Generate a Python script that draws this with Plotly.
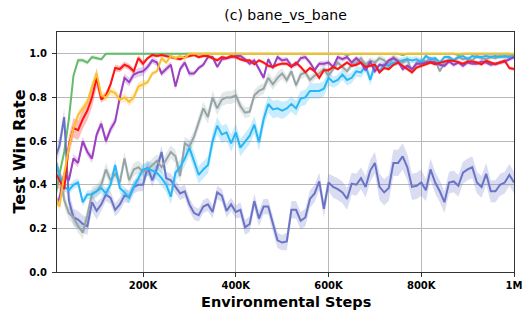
import plotly.graph_objects as go

steps = [10000 * i for i in range(1, 101)]

x_tickvals = [200000, 400000, 600000, 800000, 1000000]
x_ticktext = ["200K", "400K", "600K", "800K", "1M"]
y_tickvals = [0.0, 0.2, 0.4, 0.6, 0.8, 1.0]
y_ticktext = ["0.0", "0.2", "0.4", "0.6", "0.8", "1.0"]

green = [0.33, 0.45, 0.55, 0.70, 0.90, 0.97, 0.97, 0.96, 0.985, 0.98,
         0.975, 1.0, 1.0, 1.0, 1.0, 1.0, 1.0, 1.0, 1.0, 1.0,
         1.0, 1.0, 1.0, 1.0, 1.0, 1.0, 1.0, 1.0, 1.0, 1.0,
         1.0, 1.0, 1.0, 1.0, 1.0, 1.0, 1.0, 1.0, 1.0, 1.0,
         1.0, 1.0, 1.0, 1.0, 1.0, 1.0, 1.0, 1.0, 1.0, 1.0,
         1.0, 1.0, 1.0, 1.0, 1.0, 1.0, 1.0, 1.0, 1.0, 1.0,
         1.0, 1.0, 1.0, 0.995, 1.0, 1.0, 1.0, 1.0, 1.0, 1.0,
         1.0, 1.0, 1.0, 1.0, 1.0, 0.995, 1.0, 1.0, 1.0, 1.0,
         1.0, 1.0, 1.0, 1.0, 1.0, 1.0, 1.0, 0.995, 1.0, 1.0,
         1.0, 1.0, 1.0, 1.0, 1.0, 1.0, 1.0, 1.0, 1.0, 0.995]

yellow = [0.35, 0.30, 0.45, 0.57, 0.66, 0.72, 0.75, 0.78, 0.85, 0.91,
          0.81, 0.80, 0.83, 0.82, 0.79, 0.80, 0.78, 0.80, 0.85, 0.86,
          0.87, 0.91, 0.92, 0.98, 0.96, 0.99, 0.98, 0.99, 0.98, 1.0,
          1.0, 1.0, 1.0, 1.0, 1.0, 1.0, 1.0, 1.0, 1.0, 1.0,
          1.0, 1.0, 1.0, 1.0, 1.0, 1.0, 1.0, 1.0, 1.0, 1.0,
          1.0, 1.0, 1.0, 1.0, 1.0, 1.0, 1.0, 1.0, 1.0, 1.0,
          1.0, 1.0, 1.0, 1.0, 1.0, 1.0, 1.0, 1.0, 1.0, 1.0,
          1.0, 1.0, 1.0, 1.0, 1.0, 1.0, 1.0, 1.0, 1.0, 1.0,
          1.0, 1.0, 1.0, 1.0, 1.0, 1.0, 1.0, 1.0, 1.0, 1.0,
          1.0, 1.0, 1.0, 1.0, 1.0, 1.0, 1.0, 1.0, 1.0, 1.0]

red = [0.46, 0.42, 0.38, 0.58, 0.66, 0.65, 0.70, 0.74, 0.80, 0.89,
       0.79, 0.81, 0.86, 0.935, 0.93, 0.95, 0.94, 0.92, 0.98, 0.955,
       0.98, 0.995, 0.99, 0.995, 0.99, 0.985, 0.98, 0.975, 0.985, 0.99,
       0.995, 0.985, 0.99, 0.99, 0.98, 0.97, 0.985, 0.98, 0.99, 0.985,
       0.975, 0.968, 0.97, 0.952, 0.97, 0.96, 0.945, 0.94, 0.95, 0.955,
       0.955, 0.94, 0.96, 0.94, 0.915, 0.935, 0.92, 0.89, 0.925, 0.925,
       0.94, 0.93, 0.945, 0.96, 0.945, 0.95, 0.96, 0.94, 0.945, 0.95,
       0.915, 0.935, 0.93, 0.95, 0.96, 0.945, 0.93, 0.915, 0.937, 0.945,
       0.952, 0.96, 0.952, 0.96, 0.965, 0.968, 0.968, 0.962, 0.955, 0.965,
       0.965, 0.96, 0.952, 0.968, 0.96, 0.952, 0.96, 0.968, 0.935, 0.93]

purple = [0.30, 0.34, 0.45, 0.42, 0.52, 0.50, 0.60, 0.55, 0.52, 0.63,
          0.68, 0.60, 0.655, 0.69, 0.80, 0.89, 0.87, 0.905, 0.915, 0.92,
          0.94, 0.97, 0.96, 0.91, 0.93, 0.95, 0.85, 0.93, 0.96, 0.91,
          0.91, 0.935, 0.95, 0.985, 0.985, 0.94, 0.975, 0.98, 0.985, 0.99,
          0.99, 0.975, 0.955, 0.97, 0.93, 0.89, 0.975, 0.935, 0.985, 0.97,
          0.975, 0.945, 0.95, 0.98, 0.985, 0.96, 0.925, 0.955, 0.955, 0.96,
          0.94, 0.985, 0.975, 0.985, 0.96, 0.98, 0.96, 0.925, 0.965, 0.92,
          0.95, 0.945, 0.97, 0.98, 0.965, 0.93, 0.945, 0.93, 0.955, 0.955,
          0.96, 0.965, 0.96, 0.95, 0.945, 0.965, 0.95, 0.96, 0.945, 0.96,
          0.955, 0.955, 0.965, 0.96, 0.95, 0.955, 0.96, 0.965, 0.975, 0.985]

gray = [0.52, 0.45, 0.33, 0.27, 0.25, 0.21, 0.18, 0.26, 0.36, 0.37,
        0.40, 0.47, 0.42, 0.45, 0.41, 0.52, 0.42, 0.47, 0.48, 0.46,
        0.47, 0.49, 0.51, 0.48, 0.515, 0.55, 0.53, 0.44, 0.59, 0.575,
        0.62, 0.69, 0.75, 0.71, 0.80, 0.75, 0.79, 0.80, 0.80, 0.81,
        0.76, 0.73, 0.735, 0.81, 0.83, 0.84, 0.89, 0.86, 0.89, 0.91,
        0.88, 0.92, 0.855, 0.905, 0.915, 0.88, 0.90, 0.91, 0.93, 0.90,
        0.93, 0.96, 0.94, 0.92, 0.95, 0.96, 0.98, 0.95, 0.97, 0.96,
        0.98, 0.97, 0.95, 0.985, 0.97, 0.96, 0.975, 0.915, 0.96, 0.97,
        0.965, 0.98, 0.97, 0.92, 0.96, 0.975, 0.97, 0.985, 0.975, 0.98,
        0.97, 0.99, 0.98, 0.975, 0.985, 0.98, 0.99, 0.985, 0.99, 0.985]

cyan = [0.52, 0.44, 0.39, 0.375, 0.40, 0.41, 0.32, 0.355, 0.355, 0.37,
        0.385, 0.36, 0.40, 0.49, 0.385, 0.365, 0.34, 0.39, 0.43, 0.47,
        0.475, 0.465, 0.455, 0.43, 0.40, 0.345, 0.455, 0.48, 0.52, 0.57,
        0.51, 0.445, 0.47, 0.49, 0.60, 0.67, 0.63, 0.64, 0.59, 0.64,
        0.57, 0.60, 0.625, 0.675, 0.595, 0.70, 0.77, 0.745, 0.75, 0.74,
        0.75, 0.77, 0.75, 0.795, 0.80, 0.83, 0.83, 0.83, 0.84, 0.89,
        0.87, 0.88, 0.905, 0.88, 0.89, 0.92, 0.915, 0.945, 0.88, 0.95,
        0.92, 0.95, 0.945, 0.96, 0.96, 0.97, 0.975, 0.97, 0.975, 0.96,
        0.99, 0.975, 0.98, 0.96, 0.985, 0.985, 0.97, 0.985, 0.99, 0.975,
        0.99, 0.985, 0.985, 0.99, 0.985, 0.99, 0.985, 0.99, 0.985, 0.99]

slate = [0.52, 0.58, 0.71, 0.33, 0.25, 0.24, 0.22, 0.21, 0.32, 0.28,
         0.31, 0.355, 0.34, 0.285, 0.31, 0.35, 0.345, 0.39, 0.40, 0.40,
         0.48, 0.42, 0.475, 0.55, 0.43, 0.42, 0.39, 0.36, 0.37, 0.31,
         0.27, 0.26, 0.30, 0.31, 0.275, 0.365, 0.35, 0.28, 0.31, 0.275,
         0.285, 0.205, 0.22, 0.325, 0.245, 0.30, 0.30, 0.22, 0.145, 0.135,
         0.14, 0.285, 0.285, 0.235, 0.25, 0.335, 0.36, 0.415, 0.29, 0.41,
         0.39, 0.38, 0.365, 0.335, 0.405, 0.40, 0.43, 0.39, 0.465, 0.50,
         0.39, 0.365, 0.385, 0.50, 0.50, 0.53, 0.48, 0.39, 0.395, 0.41,
         0.375, 0.47, 0.41, 0.37, 0.32, 0.41, 0.415, 0.395, 0.455, 0.47,
         0.48, 0.41, 0.39, 0.45, 0.37, 0.37, 0.40, 0.41, 0.445, 0.41]

# band half-widths, one value per 100K block
slate_spread = [0.04, 0.03, 0.03, 0.03, 0.035, 0.04, 0.05, 0.06, 0.05, 0.05]
gray_spread = [0.03, 0.03, 0.03, 0.03, 0.025, 0.02, 0.015, 0.015, 0.01, 0.01]
cyan_spread = [0.02, 0.025, 0.035, 0.04, 0.04, 0.035, 0.025, 0.015, 0.01, 0.01]
purple_spread = [0.02, 0.02, 0.015, 0.01, 0.012, 0.012, 0.012, 0.012, 0.01, 0.01]
red_spread = [0.045, 0.015, 0.008, 0.008, 0.008, 0.008, 0.008, 0.008, 0.008, 0.008]
yellow_spread = [0.02, 0.02, 0.01, 0.004, 0.004, 0.004, 0.004, 0.004, 0.004, 0.004]
green_spread = [0.01, 0.005, 0.004, 0.004, 0.004, 0.004, 0.004, 0.004, 0.004, 0.004]

series = [
    ("green", green, green_spread, "#66bb6a", "rgba(102,187,106,0.25)"),
    ("slate", slate, slate_spread, "#6a74c6", "rgba(106,116,198,0.25)"),
    ("gray", gray, gray_spread, "#95a5a6", "rgba(149,165,166,0.25)"),
    ("cyan", cyan, cyan_spread, "#29b6f6", "rgba(41,182,246,0.25)"),
    ("purple", purple, purple_spread, "#9c40c0", "rgba(156,64,192,0.25)"),
    ("red", red, red_spread, "#ff1414", "rgba(255,20,20,0.28)"),
    ("yellow", yellow, yellow_spread, "#fbc02d", "rgba(251,192,45,0.25)"),
]

fig = go.Figure()
for name, vals, spread, color, fill in series:
    sp = [spread[min(i // 10, 9)] for i in range(len(vals))]
    upper = [v + s for v, s in zip(vals, sp)]
    lower = [v - s for v, s in zip(vals, sp)]
    fig.add_trace(go.Scatter(
        x=steps + steps[::-1], y=upper + lower[::-1],
        fill="toself", fillcolor=fill, line=dict(width=0),
        mode="lines", hoverinfo="skip", showlegend=False))
for name, vals, spread, color, fill in series:
    fig.add_trace(go.Scatter(
        x=steps, y=vals, mode="lines", name=name,
        line=dict(color=color, width=2), showlegend=False))

tickfont = dict(family="DejaVu Sans", size=10, color="black", weight="bold")
W, H = 515, 302
fig.update_layout(
    width=W, height=H,
    margin=dict(l=49, r=9, t=24, b=38, autoexpand=False),
    plot_bgcolor="white", paper_bgcolor="white",
    showlegend=False,
    title=dict(text="(c) bane_vs_bane", x=0.5, xref="paper",
               y=1 - 7 / H, yref="container", yanchor="middle",
               font=dict(family="DejaVu Sans", size=14, color="black")),
    xaxis=dict(range=[14500, 1000000], tickvals=x_tickvals, ticktext=x_ticktext,
               automargin=False,
               showgrid=True, gridcolor="#b8b8b8", gridwidth=1,
               showline=True, linecolor="#333333", linewidth=1, mirror=True,
               ticks="outside", ticklen=4, tickcolor="#333333",
               tickfont=tickfont, zeroline=False),
    yaxis=dict(range=[0, 1.1], tickvals=y_tickvals, ticktext=y_ticktext,
               automargin=False,
               showgrid=True, gridcolor="#b8b8b8", gridwidth=1,
               showline=True, linecolor="#333333", linewidth=1, mirror=True,
               ticks="outside", ticklen=4, tickcolor="#333333",
               ticklabelstandoff=3,
               tickfont=tickfont, zeroline=False),
    annotations=[
        dict(text="Environmental Steps", xref="paper", yref="paper",
             x=0.5, y=-29.5 / 240, xanchor="center", yanchor="middle", showarrow=False,
             font=dict(family="DejaVu Sans", size=14.5, color="black", weight="bold")),
        dict(text="Test Win Rate", xref="paper", yref="paper",
             x=-38.5 / 457, y=0.5, xanchor="center", yanchor="middle", showarrow=False,
             textangle=-90,
             font=dict(family="DejaVu Sans", size=16, color="black", weight="bold")),
    ],
)

fig.write_html("out.html")
